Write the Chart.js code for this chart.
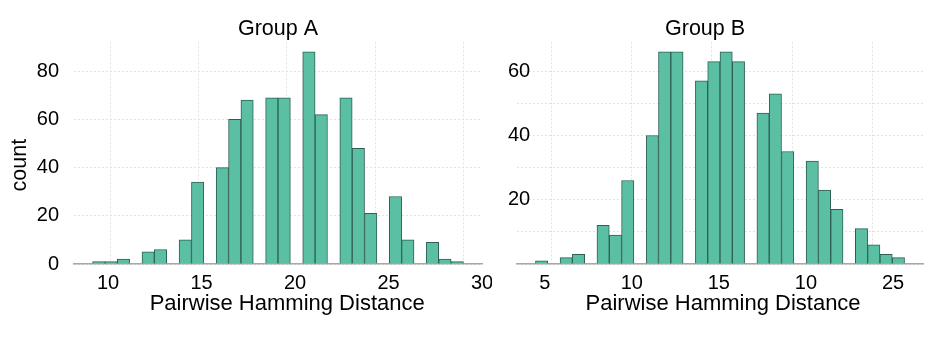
<!DOCTYPE html>
<html>
<head>
<meta charset="utf-8">
<script src="https://cdn.jsdelivr.net/npm/chart.js@4.4.1/dist/chart.umd.min.js"></script>
<style>
  body { margin: 0; background: #fff; }
  #wrap { position: relative; width: 943px; height: 342px; overflow: hidden; }
  .panel { position: absolute; top: 0; height: 342px; overflow: hidden; }
  #pa { left: 0; width: 492px; }
  #pb { left: 492px; width: 451px; }
</style>
</head>
<body>
<div id="wrap">
  <div class="panel" id="pa"><canvas id="chartA" width="492" height="342"></canvas></div>
  <div class="panel" id="pb"><canvas id="chartB" width="451" height="342"></canvas></div>
</div>
<script>
// histogram counts, 30 bins per group
const countsA = [1, 1, 2, 0, 5, 6, 0, 10, 34, 0, 40, 60, 68, 0, 69, 69, 0, 88, 62, 0, 69, 48, 21, 0, 28, 10, 0, 9, 2, 1];
const countsB = [1, 0, 2, 3, 0, 12, 9, 26, 0, 40, 66, 66, 0, 57, 63, 66, 63, 0, 47, 53, 35, 0, 32, 23, 17, 0, 11, 6, 3, 2];
const binStartA = 9, binEndA = 30;
const binStartB = 4, binEndB = 27;

// axis ticks
const xGridA = [10, 15, 20, 25, 30];
const xLabelsA = ['10', '15', '20', '25', '30'];
const xGridB = [5, 10, 15, 20, 25];
const xLabelsB = ['5', '10', '15', '10', '25'];
const yTicksA = [0, 20, 40, 60, 80];
const yLabelsA = ['0', '20', '40', '60', '80'];
const yTicksB = [0, 10, 20, 30, 40, 50, 60];
const yLabelsB = ['', '', '20', '', '40', '', '60'];

const FONT = '"Liberation Sans", Arial, sans-serif';
const BAR_FILL = '#5bbfa3';
const BAR_EDGE = '#2f5f54';
const GRID = '#e2e2e2';

function histChart(id, p) {
  const w = (p.binEnd - p.binStart) / p.counts.length;
  const pts = p.counts.map((c, i) => ({ x: p.binStart + w * (i + 0.5), y: c }));

  return new Chart(document.getElementById(id), {
    type: 'bar',
    data: {
      datasets: [{
        data: pts,
        backgroundColor: BAR_FILL,
        borderColor: BAR_EDGE,
        borderWidth: 1,
        barPercentage: 1,
        categoryPercentage: 1,
        xAxisID: 'x',
        yAxisID: 'y'
      }]
    },
    options: {
      responsive: false,
      animation: false,
      devicePixelRatio: 1,
      layout: { padding: { left: 0, right: p.padRight, top: 0, bottom: 0 } },
      plugins: {
        legend: { display: false },
        tooltip: { enabled: false },
        title: {
          display: true,
          text: p.title,
          fullSize: false,
          color: '#000',
          font: { family: FONT, size: 21.5, weight: 'normal' },
          padding: { top: 16.5, bottom: 0 }
        }
      },
      scales: {
        x: {
          type: 'linear',
          position: 'bottom',
          offset: false,
          min: p.xMin,
          max: p.xMax,
          grid: { color: GRID, drawTicks: false, offset: false },
          border: { display: false, dash: [2, 2] },
          ticks: { display: false },
          afterBuildTicks: s => { s.ticks = p.xGrid.map(v => ({ value: v })); },
          afterFit: s => { s.height = 0; s.paddingLeft = 0; s.paddingRight = 0; }
        },
        xl: {
          type: 'linear',
          position: 'bottom',
          offset: false,
          min: p.labMin,
          max: p.labMax,
          grid: { display: false, drawTicks: false, offset: false },
          border: { display: true, color: '#a8a8a8', width: 1.5 },
          ticks: {
            color: '#000',
            font: { family: FONT, size: 20 },
            padding: 7,
            autoSkip: false,
            maxRotation: 0,
            callback: (v, i) => p.xLabels[i]
          },
          title: {
            display: true,
            text: p.xTitle,
            color: '#000',
            font: { family: FONT, size: 22 },
            padding: { top: 0, bottom: 24.5 }
          },
          afterBuildTicks: s => { s.ticks = p.xGrid.map(v => ({ value: v })); },
          afterFit: s => { s.height = 78; s.paddingLeft = 0; s.paddingRight = 0; }
        },
        y: {
          min: 0,
          max: p.yMax,
          grid: { color: GRID, drawTicks: false },
          border: { display: false, dash: [2, 2] },
          ticks: {
            color: '#000',
            font: { family: FONT, size: 20 },
            mirror: p.yMirror,
            padding: p.yPad,
            callback: (v, i) => p.yLabels[i]
          },
          title: {
            display: !!p.yTitle,
            text: p.yTitle || '',
            color: '#000',
            font: { family: FONT, size: 21.5 },
            padding: { top: 7, bottom: 0 }
          },
          afterBuildTicks: s => { s.ticks = p.yTicks.map(v => ({ value: v })); },
          afterFit: s => { s.width = p.yWidth; s.paddingTop = 0; s.paddingBottom = 0; }
        }
      }
    }
  });
}

// spaces nudge the centred titles to where the reference has them
histChart('chartA', {
  title: 'Group A',
  xTitle: '   Pairwise Hamming Distance',
  counts: countsA, binStart: binStartA, binEnd: binEndA,
  xMin: 7.95, xMax: 31.05, labMin: 8.18, labMax: 30.0,
  xGrid: xGridA, xLabels: xLabelsA,
  yMax: 92, yTicks: yTicksA, yLabels: yLabelsA, yTitle: 'count    ',
  yWidth: 74, yPad: 15, yMirror: false, padRight: 10
});

histChart('chartB', {
  title: 'Group B     ',
  xTitle: ' Pairwise Hamming Distance',
  counts: countsB, binStart: binStartB, binEnd: binEndB,
  xMin: 2.85, xMax: 28.15, labMin: 3.41, labMax: 26.72,
  xGrid: xGridB, xLabels: xLabelsB,
  yMax: 69, yTicks: yTicksB, yLabels: yLabelsB, yTitle: '',
  yWidth: 25, yPad: -9, yMirror: true, padRight: 20
});
</script>
</body>
</html>
